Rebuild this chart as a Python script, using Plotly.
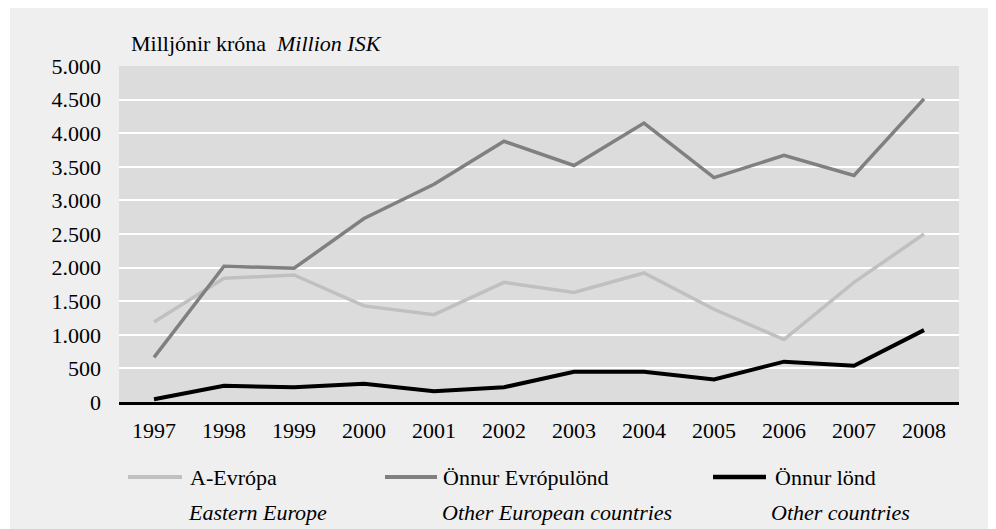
import plotly.graph_objects as go

years = ["1997", "1998", "1999", "2000", "2001", "2002", "2003", "2004", "2005", "2006", "2007", "2008"]
a_evropa = [1190, 1840, 1890, 1430, 1300, 1780, 1630, 1920, 1380, 930, 1780, 2500]
onnur_evropulond = [665, 2020, 1990, 2730, 3240, 3880, 3520, 4150, 3340, 3670, 3370, 4510]
onnur_lond = [40, 240, 220, 270, 160, 220, 450, 450, 335, 600, 540, 1070]

names_is = ["A-Evrópa", "Önnur Evrópulönd", "Önnur lönd"]
names_en = ["Eastern Europe", "Other European countries", "Other countries"]
colors = ["#c0c0c0", "#808080", "#000000"]
widths = [3.5, 3.5, 4]
y_ticks = [0, 500, 1000, 1500, 2000, 2500, 3000, 3500, 4000, 4500, 5000]
y_tick_text = ["0", "500", "1.000", "1.500", "2.000", "2.500", "3.000", "3.500", "4.000", "4.500", "5.000"]
title_is = "Milljónir króna"
title_en = "Million ISK"

FONT = "Liberation Serif, Times New Roman, Times, serif"
FS = 22
W, H = 988, 521
L, R, T, B = 111, 37, 58, 127
PW, PH = W - L - R, H - T - B


def px(x):
    return (x - L) / PW


def py(y):
    return (H - B - y) / PH


series = [a_evropa, onnur_evropulond, onnur_lond]

fig = go.Figure()
for i, vals in enumerate(series):
    fig.add_trace(go.Scatter(
        x=years, y=vals, mode="lines", name=names_is[i],
        line=dict(color=colors[i], width=widths[i]),
        showlegend=False,
    ))

shapes = [
    dict(type="rect", xref="paper", yref="paper", x0=px(2), x1=px(984), y0=py(H + 5), y1=py(-1),
         fillcolor="#efefef", line=dict(width=0), layer="below"),
    dict(type="rect", xref="paper", yref="paper", x0=0, x1=1, y0=0, y1=1,
         fillcolor="#dcdcdc", line=dict(width=0), layer="below"),
]

# legend keys (line samples) and labels
key_x0 = [120, 377, 705]
key_x1 = [174, 429, 758]
name_x = [180, 433, 765]
en_x = [178, 432, 761]
row1_y = 469
row2_y = 504

annotations = [
    dict(text=f"{title_is}  <i>{title_en}</i>", xref="paper", yref="paper", x=px(121), y=py(35),
         xanchor="left", yanchor="middle", showarrow=False, font=dict(family=FONT, size=FS, color="#000")),
]
for i in range(3):
    shapes.append(dict(type="line", xref="paper", yref="paper", x0=px(key_x0[i]), x1=px(key_x1[i]),
                       y0=py(row1_y), y1=py(row1_y), line=dict(color=colors[i], width=widths[i] + 0.5)))
    annotations.append(dict(text=names_is[i], xref="paper", yref="paper", x=px(name_x[i]), y=py(row1_y),
                            xanchor="left", yanchor="middle", showarrow=False,
                            font=dict(family=FONT, size=FS, color="#000")))
    annotations.append(dict(text=f"<i>{names_en[i]}</i>", xref="paper", yref="paper", x=px(en_x[i]), y=py(row2_y),
                            xanchor="left", yanchor="middle", showarrow=False,
                            font=dict(family=FONT, size=FS, color="#000")))

fig.update_layout(
    width=W, height=H,
    margin=dict(l=L, r=R, t=T, b=B, pad=0),
    paper_bgcolor="#ffffff",
    plot_bgcolor="rgba(0,0,0,0)",
    font=dict(family=FONT, size=FS, color="#000"),
    shapes=shapes,
    annotations=annotations,
    showlegend=False,
    xaxis=dict(
        type="category", range=[-0.5, 11.5], showgrid=False, zeroline=False,
        showline=True, linecolor="#000", linewidth=2.5, ticks="", ticklabelstandoff=7,
        tickfont=dict(family=FONT, size=FS, color="#000"), fixedrange=True,
    ),
    yaxis=dict(
        range=[0, 5000], tickvals=y_ticks, ticktext=y_tick_text, showgrid=True,
        gridcolor="#ffffff", gridwidth=2, zeroline=False, showline=False, ticks="",
        ticklabelstandoff=17, tickfont=dict(family=FONT, size=FS, color="#000"), fixedrange=True,
    ),
)

fig.write_html("out.html")
